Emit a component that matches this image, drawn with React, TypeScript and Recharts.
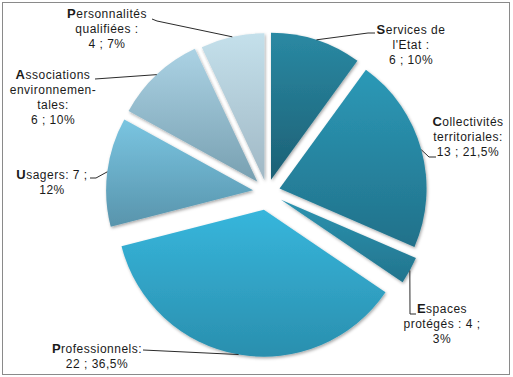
import { PieChart, Pie, Cell, Sector } from 'recharts'

const categories = [
  "Services de l'Etat",
  'Collectivités territoriales',
  'Espaces protégés',
  'Professionnels',
  'Usagers',
  'Associations environnementales',
  'Personnalités qualifiées',
]
const counts = [6, 13, 4, 22, 7, 6, 4]
const percents = [10, 21.5, 3, 36.5, 12, 10, 7]
const labelLines = [
  ['Services de', "l'Etat :", '6 ; 10%'],
  ['Collectivités', 'territoriales:', '13 ; 21,5%'],
  ['Espaces', 'protégés : 4 ;', '3%'],
  ['Professionnels:', '22 ; 36,5%'],
  ['Usagers: 7 ;', '12%'],
  ['Associations', 'environnemen-', 'tales:', '6 ; 10%'],
  ['Personnalités', 'qualifiées :', '4 ; 7%'],
]

const data = categories.map((name, i) => ({ name, count: counts[i], value: percents[i] }))

// styling: gradient top/bottom per slice, explode distance, label placement
const gradients = [
  ['#2a89a3', '#1c6075'],
  ['#2c99b7', '#21718a'],
  ['#2c93b0', '#22748d'],
  ['#37b6dc', '#2a8fae'],
  ['#7ac5e1', '#5894ac'],
  ['#abd2e4', '#78a0b1'],
  ['#c4e0eb', '#a0b8c5'],
]
const explode = [13, 13, 16, 18, 14, 14, 12]
const labelPos = [
  { x: 411, y: 29, lead: [[375, 33], [368, 33]] },
  { x: 468, y: 121, lead: [[436, 157], [429, 157]] },
  { x: 442, y: 308, lead: [[416, 314], [410, 314]] },
  { x: 97, y: 348, lead: [[143, 350]] },
  { x: 52, y: 174, lead: [[90, 178], [96, 178]] },
  { x: 53, y: 74, lead: [[95, 79]] },
  { x: 107, y: 13, lead: [[152, 19], [157, 21]] },
]
const LINE_H = 15
const FONT = "'Liberation Sans', Arial, sans-serif"

const renderSlice = (props: any) => {
  const { cx, cy, outerRadius, startAngle, endAngle, midAngle, index } = props
  const rad = (-midAngle * Math.PI) / 180
  const ux = Math.cos(rad)
  const uy = Math.sin(rad)
  const ox = cx + explode[index] * ux
  const oy = cy + explode[index] * uy
  const edge = [ox + outerRadius * ux, oy + outerRadius * uy]
  const pos = labelPos[index]
  const pts = [...pos.lead, edge].map((p) => p.join(',')).join(' ')
  const lines = labelLines[index]
  return (
    <g key={`slice-${index}`}>
      <Sector
        cx={ox}
        cy={oy}
        innerRadius={0}
        outerRadius={outerRadius}
        startAngle={startAngle}
        endAngle={endAngle}
        fill={`url(#grad${index})`}
        stroke="none"
        filter="url(#shadow)"
      />
      <polyline points={pts} fill="none" stroke="#2b2b2b" strokeWidth={1} />
      <text
        x={pos.x}
        y={pos.y + 4.5}
        textAnchor="middle"
        fontFamily={FONT}
        fontSize={12}
        letterSpacing={0.5}
        fill="#1a1a1a"
      >
        {lines.map((line, li) => (
          <tspan key={li} x={pos.x} y={pos.y + 4.5 + li * LINE_H}>
            {li === 0 ? (
              <>
                <tspan fontWeight="bold" fontSize={13}>{line[0]}</tspan>
                {line.slice(1)}
              </>
            ) : (
              line
            )}
          </tspan>
        ))}
      </text>
    </g>
  )
}

export default function App() {
  return (
    <div style={{ position: 'relative', width: 513, height: 377, background: '#fff' }}>
      <style>{'body{margin:0}'}</style>
      <div
        style={{
          position: 'absolute',
          left: 2,
          top: 2,
          width: 506,
          height: 371,
          border: '1px solid #8a8a8a',
        }}
      />
      <div style={{ position: 'absolute', left: 0, top: 0 }}>
        <PieChart width={513} height={377} margin={{ top: 0, right: 0, bottom: 0, left: 0 }}>
          <defs>
            {gradients.map(([top, bottom], i) => (
              <linearGradient key={i} id={`grad${i}`} x1="0" y1="0" x2="0" y2="1">
                <stop offset="0%" stopColor={top} />
                <stop offset="100%" stopColor={bottom} />
              </linearGradient>
            ))}
            <filter id="shadow" x="-10%" y="-10%" width="125%" height="125%">
              <feDropShadow dx="1" dy="1.5" stdDeviation="1.5" floodColor="#000" floodOpacity="0.35" />
            </filter>
          </defs>
          <Pie
            data={data}
            dataKey="value"
            nameKey="name"
            cx={267}
            cy={192}
            outerRadius={147}
            startAngle={90}
            endAngle={-270}
            stroke="none"
            label={renderSlice}
            labelLine={false}
            isAnimationActive={false}
          >
            {data.map((_, i) => (
              <Cell key={i} fill="transparent" stroke="none" />
            ))}
          </Pie>
        </PieChart>
      </div>
    </div>
  )
}
